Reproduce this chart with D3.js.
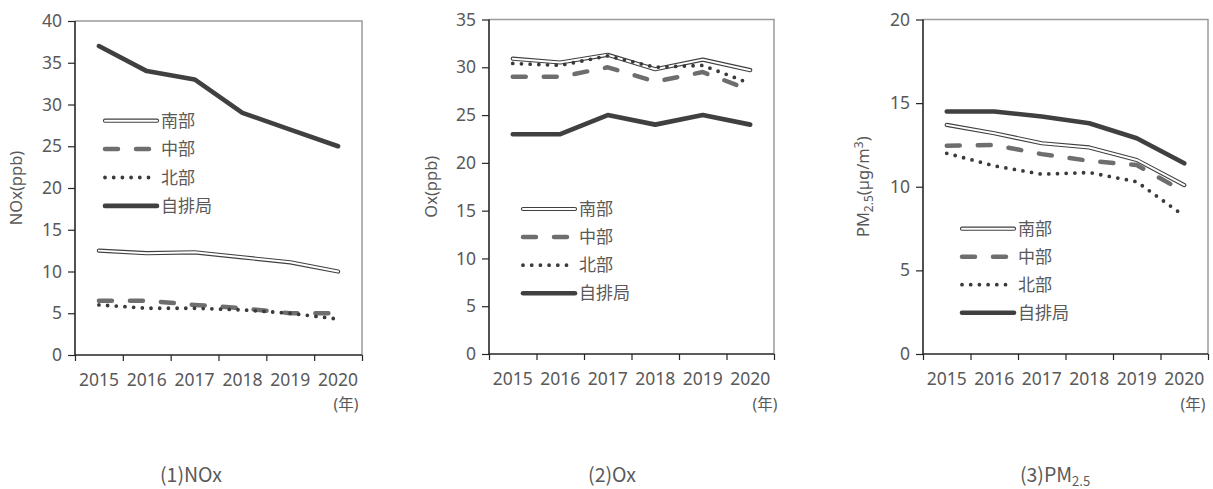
<!DOCTYPE html>
<html>
<head>
<meta charset="utf-8">
<script src="https://cdn.jsdelivr.net/npm/d3@7"></script>
<style>
  html, body { margin: 0; padding: 0; background: #fff; }
  svg text { font-family: "Noto Sans", "Noto Sans CJK JP", sans-serif; fill: #595959; }
</style>
</head>
<body>
<svg id="chart" width="1213" height="489"></svg>
<script>
// Fiscal years on the x axis
const years = ["2015", "2016", "2017", "2018", "2019", "2020"];
// Station groups
const seriesNames = ["南部", "中部", "北部", "自排局"];

// NOx (ppb)
const noxSouth   = [12.5, 12.2, 12.3, 11.7, 11.1, 10.0];
const noxCentral = [6.5, 6.5, 6.0, 5.6, 5.0, 5.0];
const noxNorth   = [6.0, 5.6, 5.6, 5.4, 5.0, 4.3];
const noxRoad    = [37, 34, 33, 29, 27, 25];

// Ox (ppb)
const oxSouth   = [30.9, 30.5, 31.3, 29.8, 30.8, 29.7];
const oxCentral = [29.0, 29.0, 30.0, 28.5, 29.5, 27.6];
const oxNorth   = [30.4, 30.2, 31.2, 30.0, 30.2, 28.3];
const oxRoad    = [23, 23, 25, 24, 25, 24];

// PM2.5 (µg/m3)
const pmSouth   = [13.7, 13.2, 12.6, 12.35, 11.6, 10.1];
const pmCentral = [12.45, 12.5, 11.95, 11.55, 11.3, 9.7];
const pmNorth   = [12.0, 11.25, 10.75, 10.85, 10.3, 8.25];
const pmRoad    = [14.5, 14.5, 14.2, 13.8, 12.9, 11.4];

// Y axis tick values
const noxTicks = [0, 5, 10, 15, 20, 25, 30, 35, 40];
const oxTicks  = [0, 5, 10, 15, 20, 25, 30, 35];
const pmTicks  = [0, 5, 10, 15, 20];

const yearUnit = "(年)";
const captions = ["(1)NOx", "(2)Ox", "(3)PM"];

const svg = d3.select("#chart");

// line styles for the four series: 南部, 中部, 北部, 自排局
function drawSeries(g, kind, pts) {
  const line = d3.line().x(d => d[0]).y(d => d[1]);
  if (kind === 0) {
    g.append("path").attr("d", line(pts)).attr("fill", "none")
      .attr("stroke", "#404040").attr("stroke-width", 4.2).attr("stroke-linejoin", "round").attr("stroke-linecap", "round");
    g.append("path").attr("d", line(pts)).attr("fill", "none")
      .attr("stroke", "#ffffff").attr("stroke-width", 2).attr("stroke-linejoin", "round").attr("stroke-linecap", "round");
  } else if (kind === 1) {
    g.append("path").attr("d", line(pts)).attr("fill", "none")
      .attr("stroke", "#6e6e6e").attr("stroke-width", 4.5).attr("stroke-dasharray", "13,18")
      .attr("stroke-linecap", "round").attr("stroke-linejoin", "round");
  } else if (kind === 2) {
    g.append("path").attr("d", line(pts)).attr("fill", "none")
      .attr("stroke", "#3a3a3a").attr("stroke-width", 3.8).attr("stroke-dasharray", "0,8.7")
      .attr("stroke-linecap", "round").attr("stroke-linejoin", "round");
  } else {
    g.append("path").attr("d", line(pts)).attr("fill", "none")
      .attr("stroke", "#404040").attr("stroke-width", 4.6).attr("stroke-linejoin", "round").attr("stroke-linecap", "round");
  }
}

function panel(cfg) {
  const { x0, x1, yTop, yBot, yMax, ticks, series, legend, ylab, unitPos, caption } = cfg;
  const g = svg.append("g");
  const x = d3.scaleBand().domain(years).range([x0, x1]).padding(0);
  const y = d3.scaleLinear().domain([0, yMax]).range([yBot, yTop]);

  // frame (top and right)
  g.append("path")
    .attr("d", `M${x0},${yTop}H${x1}V${yBot}`)
    .attr("fill", "none").attr("stroke", "#9a9a9a").attr("stroke-width", 1.5);

  // y axis
  const yAxis = g.append("g").attr("transform", `translate(${x0},0)`)
    .call(d3.axisLeft(y).tickValues(ticks).tickSize(7).tickPadding(6).tickFormat(d3.format("d")));
  yAxis.select(".domain").attr("stroke", "#262626").attr("stroke-width", 1.6).attr("d", `M0,${yBot}V${yTop}`);
  yAxis.selectAll(".tick line").attr("stroke", "#262626").attr("stroke-width", 1.2);
  yAxis.selectAll(".tick text").attr("font-size", 17.5).style("font-family", "'Noto Sans', sans-serif").attr("fill", "#595959");

  // x axis: ticks at category boundaries, labels at centres
  const xb = d3.scaleLinear().domain([0, years.length]).range([x0, x1]);
  const xAxis = g.append("g").attr("transform", `translate(0,${yBot})`)
    .call(d3.axisBottom(xb).tickValues(d3.range(years.length + 1)).tickSize(6).tickFormat(""));
  xAxis.select(".domain").attr("stroke", "#262626").attr("stroke-width", 1.6).attr("d", `M${x0},0H${x1}`);
  xAxis.selectAll(".tick line").attr("stroke", "#262626").attr("stroke-width", 1.2);
  const xl = g.append("g").attr("transform", `translate(0,${yBot})`)
    .call(d3.axisBottom(x).tickSize(0).tickPadding(25));
  xl.select(".domain").remove();
  xl.selectAll(".tick text").attr("font-size", 17.5).attr("fill", "#595959")
    .style("font-family", "'Noto Sans', sans-serif").attr("dy", "0.35em");

  // unit label
  g.append("text").attr("x", unitPos[0]).attr("y", unitPos[1]).attr("text-anchor", "middle")
    .attr("font-size", 15.5).text(yearUnit);

  // y axis title
  const yt = g.append("text")
    .attr("transform", `translate(${ylab.x},${(yTop + yBot) / 2}) rotate(-90)`)
    .attr("text-anchor", "middle").attr("font-size", 16.5);
  ylab.build(yt);

  // series
  series.forEach((vals, i) => {
    const pts = vals.map((v, k) => [x(years[k]) + x.bandwidth() / 2, y(v)]);
    drawSeries(g, i, pts);
  });

  // legend
  seriesNames.forEach((name, i) => {
    const ly = legend.y0 + i * legend.dy;
    drawSeries(g, i, [[legend.x, ly], [legend.x + 52, ly]]);
    g.append("text").attr("x", legend.x + 56).attr("y", ly).attr("dy", "0.36em")
      .attr("font-size", 17).style("font-family", "'Noto Sans CJK JP', sans-serif").text(name);
  });

  // caption
  const c = g.append("text").attr("x", caption.x).attr("y", 482).attr("text-anchor", "middle")
    .attr("font-size", 19.5).style("font-family", "'Noto Sans CJK JP', sans-serif");
  caption.build(c);
}

panel({
  x0: 75, x1: 362, yTop: 21, yBot: 355, yMax: 40, ticks: noxTicks,
  series: [noxSouth, noxCentral, noxNorth, noxRoad],
  legend: { x: 105, y0: 120.7, dy: 28.4 },
  ylab: { x: 22, build: t => t.text("NOx(ppb)") },
  unitPos: [346, 410],
  caption: { x: 191, build: t => t.text(captions[0]) }
});

panel({
  x0: 489, x1: 774, yTop: 19.5, yBot: 354, yMax: 35, ticks: oxTicks,
  series: [oxSouth, oxCentral, oxNorth, oxRoad],
  legend: { x: 523, y0: 209, dy: 28.1 },
  ylab: { x: 437, build: t => t.text("Ox(ppb)") },
  unitPos: [765, 410],
  caption: { x: 612, build: t => t.text(captions[1]) }
});

panel({
  x0: 923, x1: 1208, yTop: 19.5, yBot: 354, yMax: 20, ticks: pmTicks,
  series: [pmSouth, pmCentral, pmNorth, pmRoad],
  legend: { x: 962, y0: 228.7, dy: 28 },
  ylab: { x: 869, build: t => {
    t.append("tspan").text("PM");
    t.append("tspan").attr("font-size", 12).attr("dy", 4).text("2.5");
    t.append("tspan").attr("dy", -4).text("(µg/m");
    t.append("tspan").attr("font-size", 12).attr("dy", -6).text("3");
    t.append("tspan").attr("dy", 6).text(")");
  } },
  unitPos: [1193, 410],
  caption: { x: 1055, build: t => {
    t.append("tspan").text(captions[2]);
    t.append("tspan").attr("font-size", 13).attr("dy", 4).text("2.5");
  } }
});
</script>
</body>
</html>
